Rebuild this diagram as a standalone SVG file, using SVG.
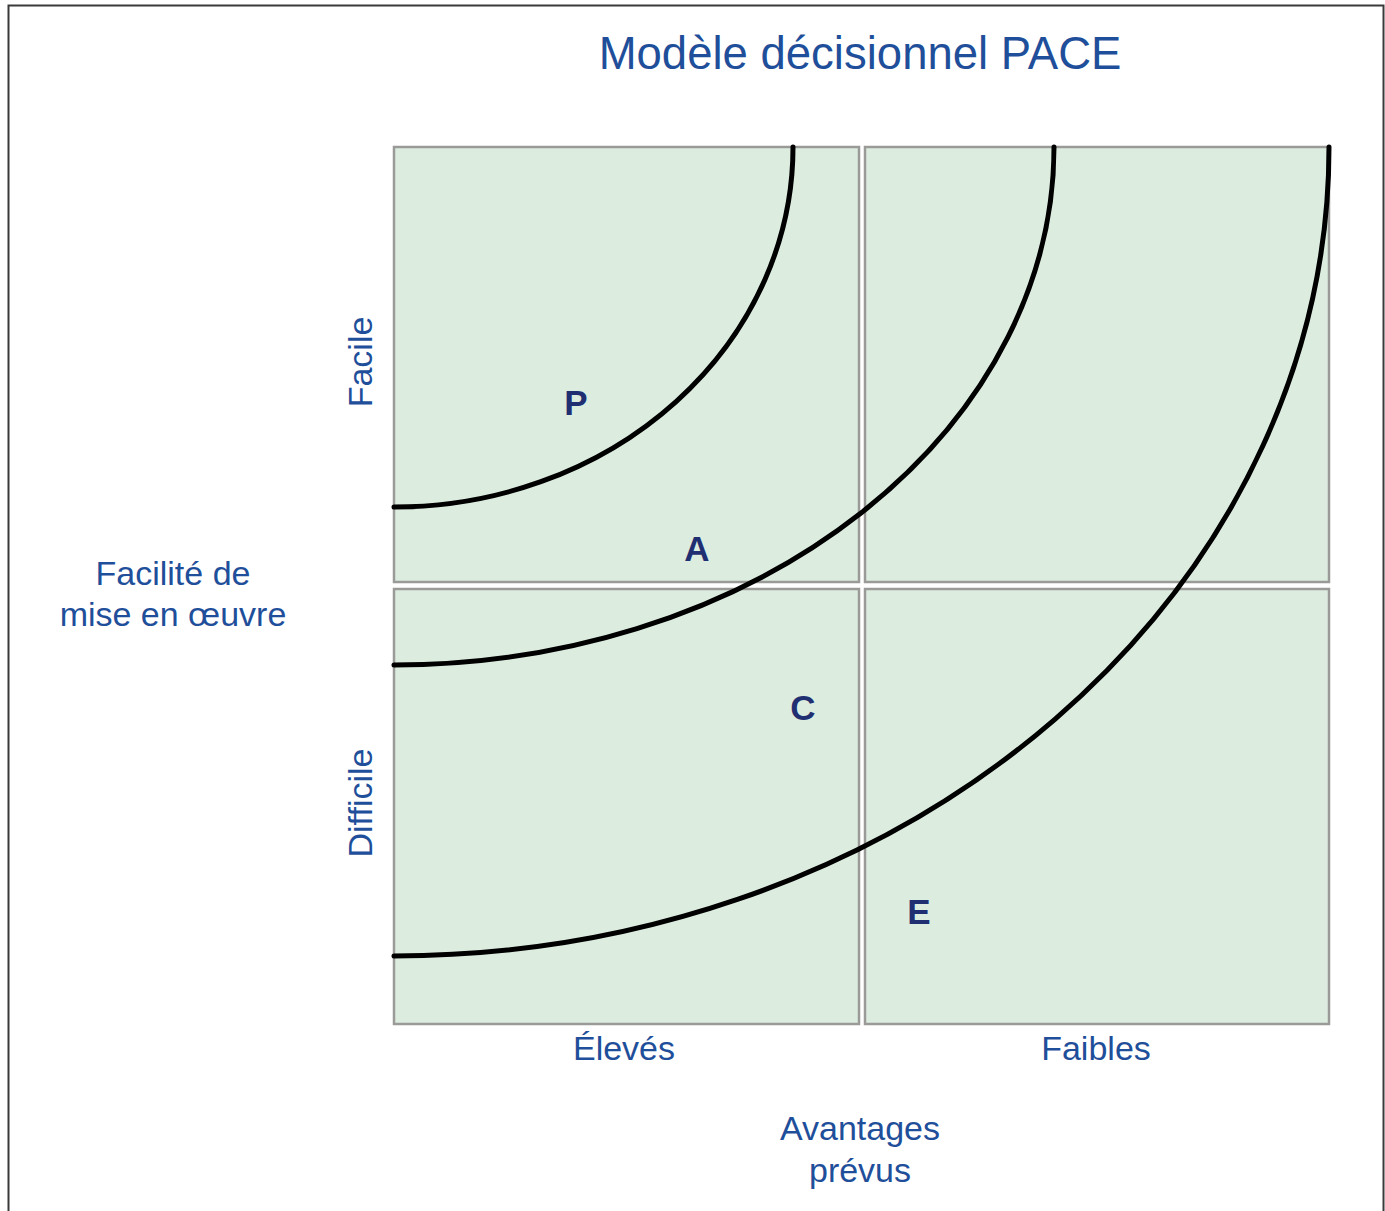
<svg xmlns="http://www.w3.org/2000/svg" width="1385" height="1211" viewBox="0 0 1385 1211">
  <style>
    .lbl { font-family: "Liberation Sans", Arial, sans-serif; fill: #1f4f9a; font-size: 34px; text-anchor: middle; }
    .title { font-size: 45.5px; }
    .quad { fill: #dcede0; stroke: #9a9a98; stroke-width: 2.5; }
    .curve { fill: none; stroke: #000; stroke-width: 5; stroke-linecap: round; }
    .zone { font-family: "Liberation Sans", Arial, sans-serif; font-weight: bold; fill: #1f2f72; font-size: 35px; text-anchor: middle; }
  </style>
  <rect x="0" y="0" width="1385" height="1211" fill="#ffffff"/>
  <rect id="frame" x="8.5" y="5.5" width="1375" height="1215" fill="none" stroke="#3a3a3a" stroke-width="2"/>

  <text id="title" class="lbl title" x="860" y="69">Modèle décisionnel PACE</text>

  <!-- 2x2 grid -->
  <g id="q-top-left"><rect class="quad" x="394" y="147" width="465" height="435"/></g>
  <g id="q-top-right"><rect class="quad" x="865" y="147" width="464" height="435"/></g>
  <g id="q-bottom-left"><rect class="quad" x="394" y="589" width="465" height="435"/></g>
  <g id="q-bottom-right"><rect class="quad" x="865" y="589" width="464" height="435"/></g>

  <!-- boundary arcs, all centred on the top-left corner -->
  <g id="connectors">
    <path class="curve" d="M394,507 A399,360 0 0 0 793,147"/>
    <path class="curve" d="M394,665 A660,518 0 0 0 1054,147"/>
    <path class="curve" d="M394,956 A935,809 0 0 0 1329,147"/>
  </g>

  <g id="zone-p"><text class="zone" x="576" y="415">P</text></g>
  <g id="zone-a"><text class="zone" x="697" y="561">A</text></g>
  <g id="zone-c"><text class="zone" x="803" y="720">C</text></g>
  <g id="zone-e"><text class="zone" x="919" y="924">E</text></g>

  <g id="axis-y">
    <text class="lbl" transform="translate(372,362) rotate(-90)">Facile</text>
    <text class="lbl" transform="translate(372,803) rotate(-90)">Difficile</text>
    <text class="lbl" x="173" y="585">Facilité de</text>
    <text class="lbl" x="173" y="626">mise en œuvre</text>
  </g>

  <g id="axis-x">
    <text class="lbl" x="624" y="1060">Élevés</text>
    <text class="lbl" x="1096" y="1060">Faibles</text>
    <text class="lbl" x="860" y="1140">Avantages</text>
    <text class="lbl" x="860" y="1182">prévus</text>
  </g>
</svg>
